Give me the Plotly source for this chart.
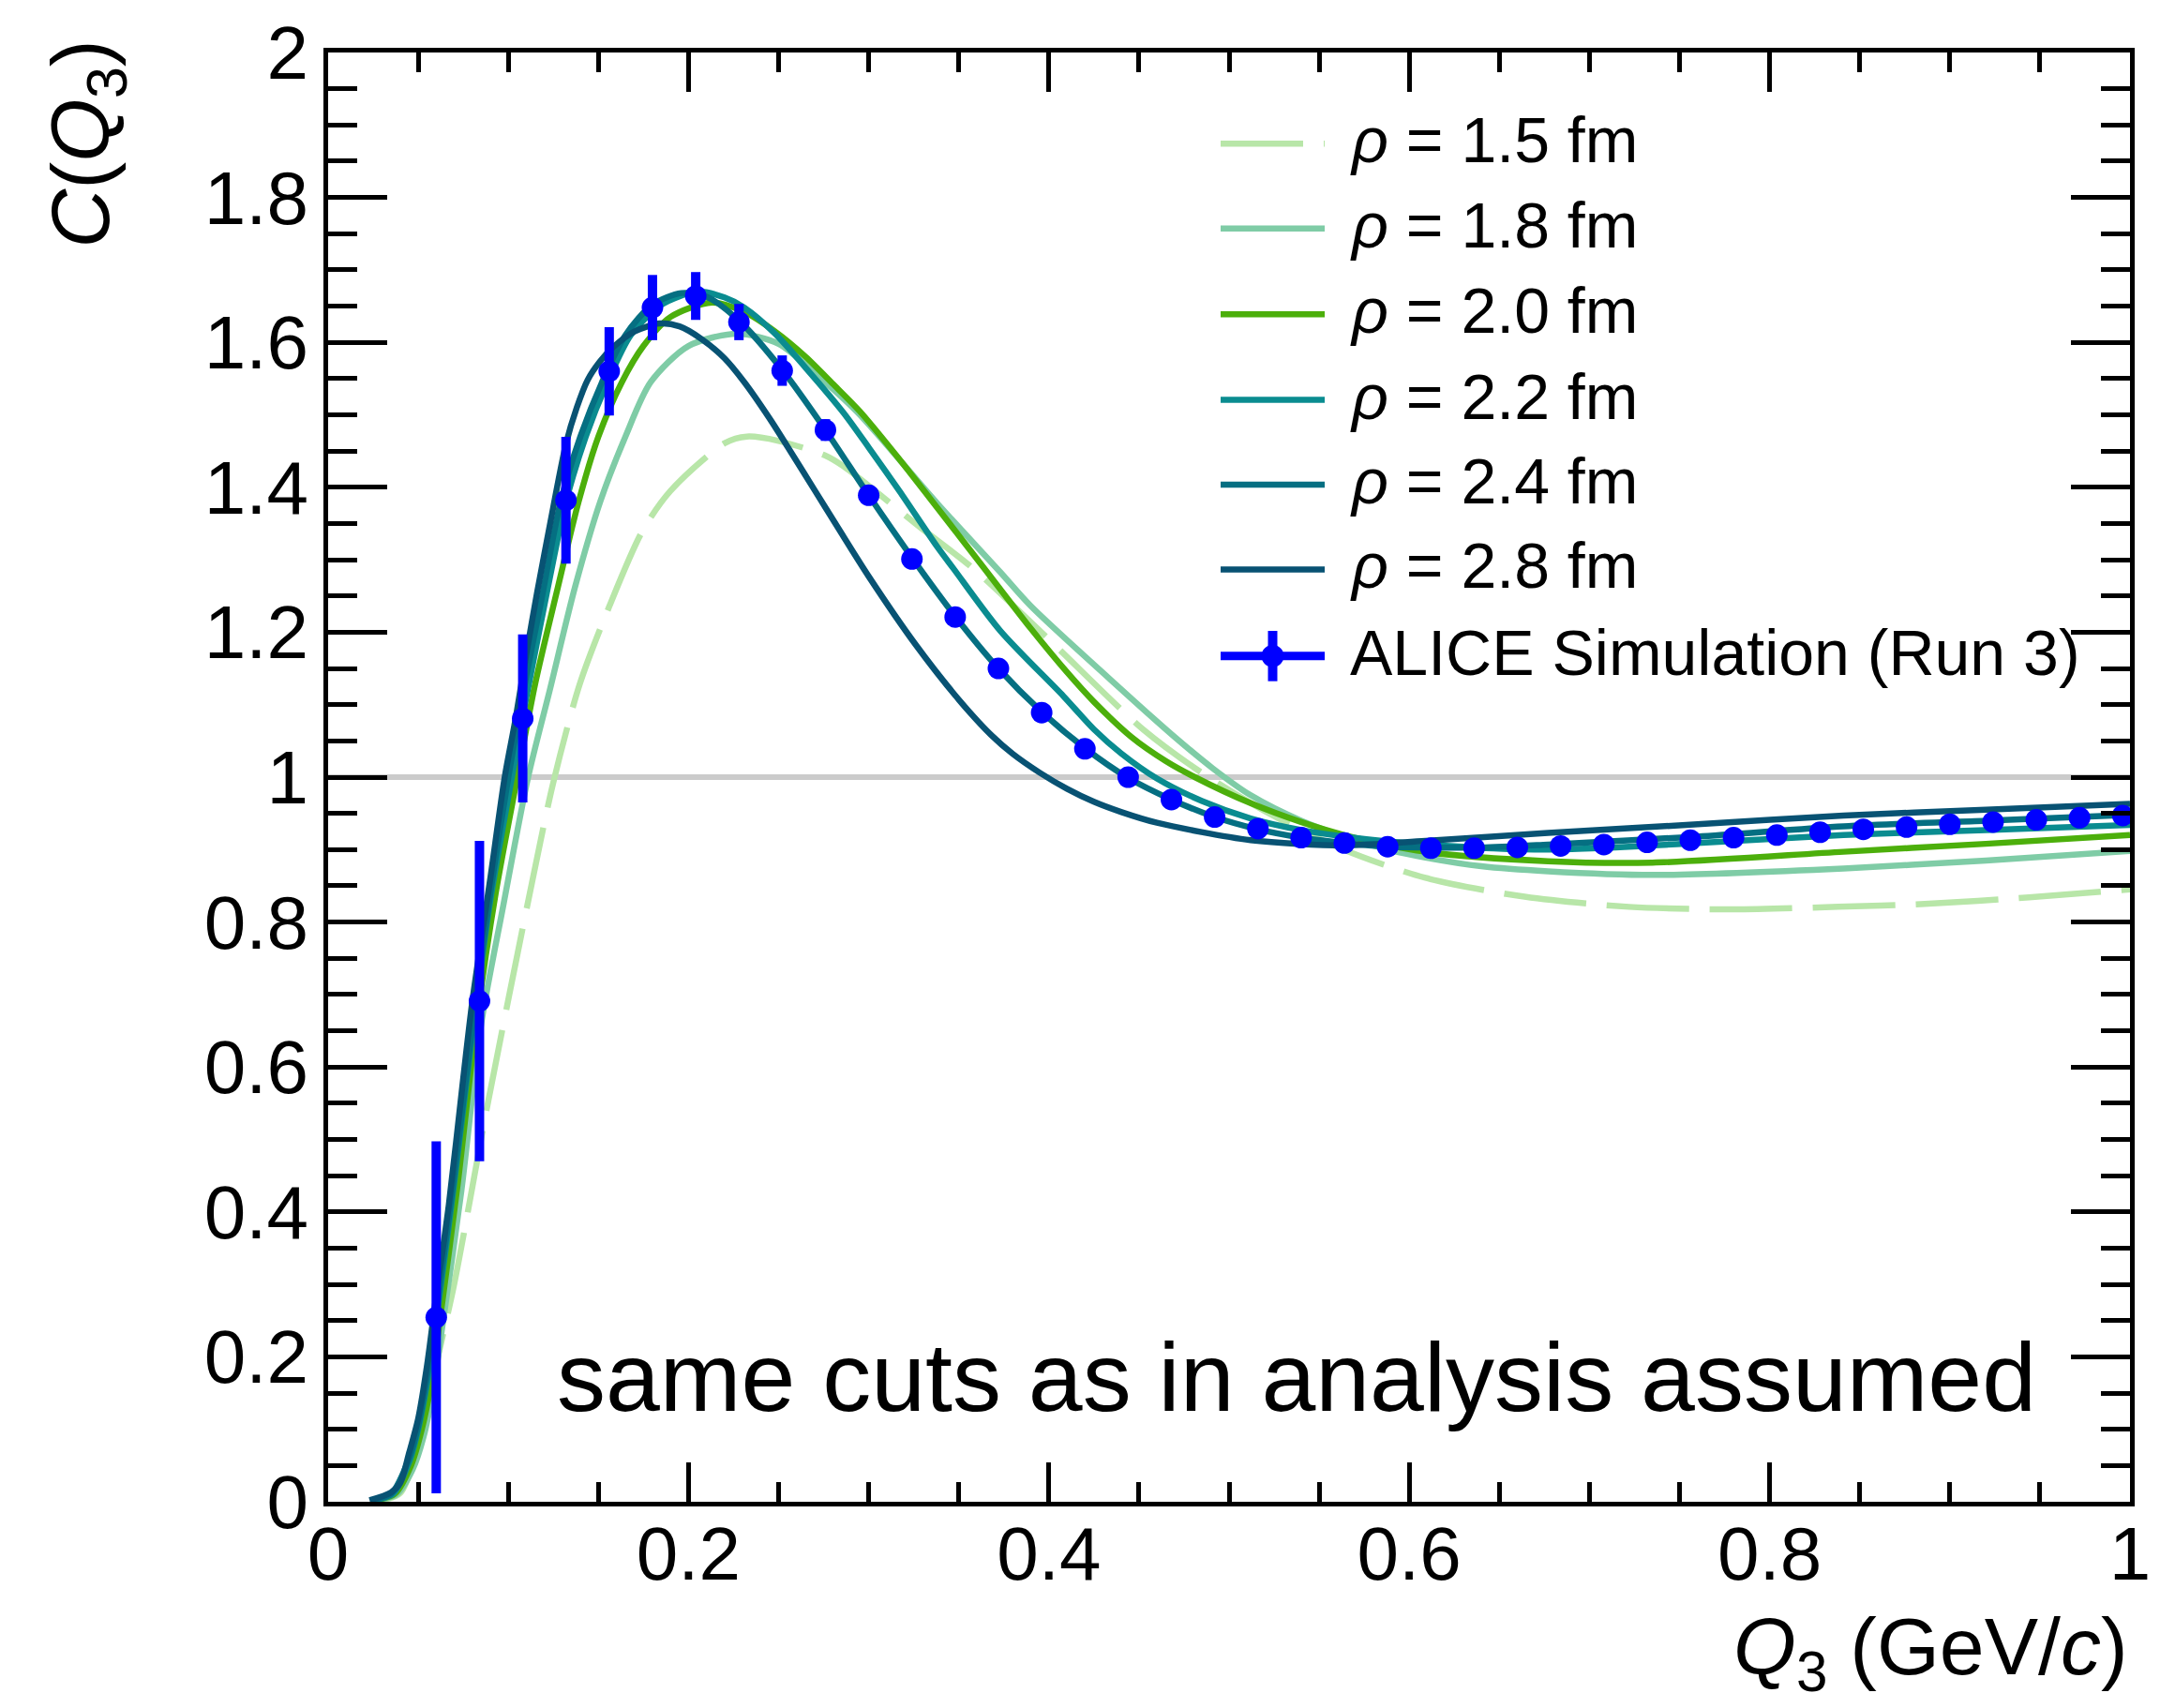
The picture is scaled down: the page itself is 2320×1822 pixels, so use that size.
import plotly.graph_objects as go

# ---------------- data ----------------
q_data = [0.060, 0.084, 0.108, 0.132, 0.156, 0.180, 0.204, 0.228, 0.252, 0.276,
          0.300, 0.324, 0.348, 0.372, 0.396, 0.420, 0.444, 0.468, 0.492, 0.516,
          0.540, 0.564, 0.588, 0.612, 0.636, 0.660, 0.684, 0.708, 0.732, 0.756,
          0.780, 0.804, 0.828, 0.852, 0.876, 0.900, 0.924, 0.948, 0.972, 0.996]
c_data = [0.2545, 0.691, 1.081, 1.382, 1.560, 1.648, 1.664, 1.628, 1.561, 1.479,
          1.389, 1.301, 1.221, 1.150, 1.089, 1.039, 1.000, 0.969, 0.945, 0.929,
          0.9165, 0.909, 0.904, 0.902, 0.902, 0.903, 0.905, 0.907, 0.910, 0.913,
          0.9165, 0.920, 0.924, 0.928, 0.931, 0.935, 0.938, 0.941, 0.944, 0.947]
c_data_err = [0.243, 0.221, 0.116, 0.0875, 0.061, 0.045, 0.033, 0.025, 0.021, 0.015,
              0.012, 0.010, 0.009, 0.008, 0.008, 0.007, 0.007, 0.006, 0.006, 0.006,
              0.005, 0.005, 0.005, 0.005, 0.005, 0.005, 0.005, 0.005, 0.005, 0.005,
              0.005, 0.005, 0.005, 0.005, 0.005, 0.005, 0.005, 0.005, 0.005, 0.005]

q_rho15 = [0.030, 0.040, 0.050, 0.060, 0.0697, 0.0888, 0.1131, 0.1249, 0.1396, 0.1561,
           0.1743, 0.190, 0.2202, 0.2324, 0.250, 0.2757, 0.286, 0.3295, 0.357, 0.400,
           0.4527, 0.4855, 0.520, 0.5635, 0.609, 0.664, 0.722, 0.780, 0.838, 0.886,
           0.944, 1.000]
c_rho15 = [0.002, 0.012, 0.075, 0.19, 0.297, 0.552, 0.854, 0.992, 1.128, 1.236,
           1.339, 1.395, 1.461, 1.470, 1.464, 1.444, 1.429, 1.343, 1.29, 1.19,
           1.065, 1.005, 0.953, 0.900, 0.861, 0.835, 0.821, 0.8175, 0.821, 0.825,
           0.834, 0.845]

q_rho18 = [0.027, 0.038, 0.047, 0.053, 0.058, 0.063, 0.074, 0.085, 0.097, 0.111,
           0.123, 0.137, 0.151, 0.165, 0.179, 0.200, 0.227, 0.250, 0.270, 0.294,
           0.338, 0.373, 0.390, 0.442, 0.470, 0.491, 0.512, 0.540, 0.564, 0.590,
           0.609, 0.640, 0.677, 0.735, 0.841, 0.920, 1.000]
c_rho18 = [0.002, 0.010, 0.045, 0.090, 0.150, 0.235, 0.43, 0.66, 0.82, 1.00,
           1.12, 1.262, 1.38, 1.47, 1.545, 1.595, 1.612, 1.598, 1.558, 1.503,
           1.378, 1.283, 1.236, 1.117, 1.055, 1.012, 0.975, 0.940, 0.918, 0.899,
           0.889, 0.877, 0.870, 0.865, 0.874, 0.885, 0.898]

q_rho20 = [0.026, 0.037, 0.046, 0.052, 0.057, 0.062, 0.072, 0.0825, 0.093, 0.105,
           0.115, 0.1275, 0.139, 0.150, 0.163, 0.175, 0.190, 0.213, 0.231, 0.248,
           0.265, 0.280, 0.295, 0.315, 0.338, 0.3626, 0.390, 0.410, 0.425, 0.446,
           0.465, 0.481, 0.512, 0.540, 0.564, 0.609, 0.677, 0.735, 0.841, 0.920,
           1.000]
c_rho20 = [0.002, 0.011, 0.050, 0.100, 0.160, 0.250, 0.44, 0.665, 0.84, 1.00,
           1.13, 1.262, 1.38, 1.47, 1.545, 1.595, 1.635, 1.655, 1.642, 1.615,
           1.580, 1.543, 1.505, 1.445, 1.372, 1.293, 1.205, 1.145, 1.104, 1.055,
           1.022, 1.000, 0.964, 0.938, 0.920, 0.897, 0.884, 0.882, 0.897, 0.908,
           0.920]

q_rho22 = [0.025, 0.036, 0.045, 0.050, 0.055, 0.060, 0.070, 0.081, 0.090, 0.102,
           0.110, 0.122, 0.132, 0.143, 0.155, 0.168, 0.185, 0.205, 0.220, 0.231,
           0.248, 0.265, 0.286, 0.300, 0.317, 0.338, 0.347, 0.373, 0.408, 0.425,
           0.440, 0.460, 0.485, 0.512, 0.540, 0.564, 0.609, 0.677, 0.760, 0.841,
           0.920, 1.000]
c_rho22 = [0.002, 0.011, 0.055, 0.100, 0.165, 0.250, 0.44, 0.665, 0.83, 1.00,
           1.11, 1.262, 1.38, 1.47, 1.545, 1.61, 1.652, 1.670, 1.662, 1.648,
           1.612, 1.565, 1.503, 1.455, 1.395, 1.318, 1.288, 1.202, 1.112, 1.066,
           1.033, 0.998, 0.967, 0.943, 0.927, 0.918, 0.907, 0.900, 0.909, 0.920,
           0.927, 0.934]

q_rho24 = [0.024, 0.035, 0.045, 0.050, 0.055, 0.060, 0.070, 0.080, 0.090, 0.100,
           0.110, 0.118, 0.129, 0.140, 0.152, 0.165, 0.180, 0.196, 0.210, 0.228,
           0.252, 0.276, 0.300, 0.324, 0.348, 0.372, 0.396, 0.420, 0.444, 0.468,
           0.492, 0.516, 0.540, 0.564, 0.588, 0.612, 0.640, 0.677, 0.760, 0.841,
           0.920, 1.000]
c_rho24 = [0.002, 0.011, 0.060, 0.105, 0.175, 0.262, 0.45, 0.655, 0.84, 1.00,
           1.14, 1.24, 1.38, 1.47, 1.545, 1.61, 1.652, 1.668, 1.663, 1.630,
           1.562, 1.479, 1.389, 1.303, 1.222, 1.150, 1.090, 1.040, 0.999, 0.969,
           0.945, 0.928, 0.9165, 0.909, 0.904, 0.903, 0.903, 0.907, 0.918, 0.932,
           0.940, 0.948]

q_rho28 = [0.023, 0.035, 0.040, 0.045, 0.050, 0.055, 0.060, 0.067, 0.075, 0.080,
           0.090, 0.098, 0.104, 0.110, 0.116, 0.124, 0.132, 0.138, 0.144, 0.151,
           0.158, 0.170, 0.184, 0.195, 0.207, 0.220, 0.231, 0.245, 0.257, 0.270,
           0.283, 0.300, 0.326, 0.350, 0.368, 0.380, 0.395, 0.410, 0.425, 0.440,
           0.460, 0.512, 0.564, 0.609, 0.677, 0.760, 0.841, 0.920, 1.000]
c_rho28 = [0.002, 0.013, 0.026, 0.068, 0.115, 0.19, 0.285, 0.41, 0.585, 0.69,
           0.86, 1.00, 1.08, 1.17, 1.255, 1.36, 1.46, 1.51, 1.548, 1.574,
           1.593, 1.615, 1.626, 1.622, 1.605, 1.578, 1.545, 1.495, 1.448, 1.396,
           1.344, 1.277, 1.183, 1.107, 1.058, 1.032, 1.006, 0.984, 0.966, 0.952,
           0.937, 0.913, 0.906, 0.912, 0.923, 0.935, 0.947, 0.955, 0.963]

curve_labels = ["1.5", "1.8", "2.0", "2.2", "2.4", "2.8"]
curve_colors = ["#b8e6a8", "#7fcca6", "#4caf0b", "#0a8c90", "#056f82", "#085273"]
data_label = "ALICE Simulation (Run 3)"
reference_level = 1.0
x_range = [0.0, 1.0]
y_range = [0.0, 2.0]

# ---------------- layout geometry ----------------
W, H = 2320, 1822
L, R, T, B = 350, 2272, 46, 1602
FONT = "Liberation Sans, Arial, Helvetica, sans-serif"


def fx(px):
    return (px - L) / (R - L)


def fy(py):
    return (B - py) / (B - T)


fig = go.Figure()

# reference line at C = 1
fig.add_trace(go.Scatter(x=x_range, y=[reference_level, reference_level], mode="lines",
                         line=dict(color="#cbcbcb", width=6), showlegend=False,
                         hoverinfo="skip"))

curves = [(q_rho15, c_rho15), (q_rho18, c_rho18), (q_rho20, c_rho20),
          (q_rho22, c_rho22), (q_rho24, c_rho24), (q_rho28, c_rho28)]
for i, (qx, cy) in enumerate(curves):
    fig.add_trace(go.Scatter(
        x=qx, y=cy, mode="lines",
        line=dict(color=curve_colors[i], width=6.5, shape="spline", smoothing=0.8,
                  dash="88px,22px" if i == 0 else "solid"),
        name="\u03c1 = %s fm" % curve_labels[i], showlegend=False))

fig.add_trace(go.Scatter(
    x=q_data, y=c_data, mode="markers",
    marker=dict(color="#0000ff", size=23, line=dict(width=0)),
    error_y=dict(type="data", array=c_data_err, visible=True, color="#0000ff",
                 thickness=10, width=0),
    name=data_label, showlegend=False))

# ---------------- custom legend ----------------
shapes = []
annotations = []
row_y = [144, 235, 327, 419, 510, 601, 694]
lx0, lx1, tx = 1302, 1413, 1438
LEG_FONT = 68
for i in range(6):
    yy = fy(row_y[i])
    shapes.append(dict(type="line", xref="paper", yref="paper", x0=fx(lx0), x1=fx(lx1),
                       y0=yy, y1=yy,
                       line=dict(color=curve_colors[i], width=6.5,
                                 dash="88px,22px" if i == 0 else "solid")))
    annotations.append(dict(xref="paper", yref="paper", x=fx(tx), y=fy(row_y[i] - 4),
                            xanchor="left", yanchor="middle", showarrow=False,
                            text="<i>\u03c1</i> = %s fm" % curve_labels[i],
                            font=dict(family=FONT, size=LEG_FONT, color="black")))
# data legend entry
yy = fy(row_y[6])
cx = (lx0 + lx1) / 2
shapes.append(dict(type="line", xref="paper", yref="paper", x0=fx(lx0), x1=fx(lx1),
                   y0=yy, y1=yy, line=dict(color="#0000ff", width=9)))
shapes.append(dict(type="line", xref="paper", yref="paper", x0=fx(cx), x1=fx(cx),
                   y0=fy(row_y[6] - 27), y1=fy(row_y[6] + 27),
                   line=dict(color="#0000ff", width=10)))
shapes.append(dict(type="circle", xref="paper", yref="paper",
                   x0=fx(cx - 12), x1=fx(cx + 12), y0=fy(row_y[6] + 12), y1=fy(row_y[6] - 12),
                   fillcolor="#0000ff", line=dict(width=0)))
annotations.append(dict(xref="paper", yref="paper", x=fx(tx), y=fy(row_y[6] - 4),
                        xanchor="left", yanchor="middle", showarrow=False,
                        text=data_label,
                        font=dict(family=FONT, size=LEG_FONT, color="black")))

# text in plot
annotations.append(dict(xref="paper", yref="paper", x=fx(592), y=fy(1468),
                        xanchor="left", yanchor="middle", showarrow=False,
                        text="same cuts as in analysis assumed",
                        font=dict(family=FONT, size=104, color="black")))
# axis titles
annotations.append(dict(xref="paper", yref="paper", x=1.0, y=fy(1764),
                        xanchor="right", yanchor="middle", showarrow=False,
                        text="<i>Q</i><sub>3</sub> (GeV/<i>c</i>)",
                        font=dict(family=FONT, size=86, color="black")))
annotations.append(dict(xref="paper", yref="paper", x=fx(92), y=1.01,
                        xanchor="center", yanchor="top", showarrow=False, textangle=-90,
                        text="<i>C</i>(<i>Q</i><sub>3</sub>)",
                        font=dict(family=FONT, size=87, color="black")))

axis_common = dict(showgrid=False, zeroline=False, showline=True, linecolor="black",
                   linewidth=5, mirror="allticks", ticks="inside", tickcolor="black",
                   tickwidth=5, tickfont=dict(family=FONT, size=80, color="black"))

fig.update_layout(
    width=W, height=H, margin=dict(l=L, r=W - R, t=T, b=H - B),
    paper_bgcolor="white", plot_bgcolor="white", showlegend=False,
    xaxis=dict(range=x_range, tick0=0, dtick=0.2, ticklen=42, ticklabelstandoff=-18,
               minor=dict(dtick=0.05, ticklen=21, tickwidth=5, tickcolor="black",
                          ticks="inside"),
               **axis_common),
    yaxis=dict(range=y_range, tick0=0, dtick=0.2, ticklen=63,
               minor=dict(dtick=0.05, ticklen=31, tickwidth=5, tickcolor="black",
                          ticks="inside"),
               **axis_common),
    shapes=shapes, annotations=annotations,
)

fig.write_html("out.html")
